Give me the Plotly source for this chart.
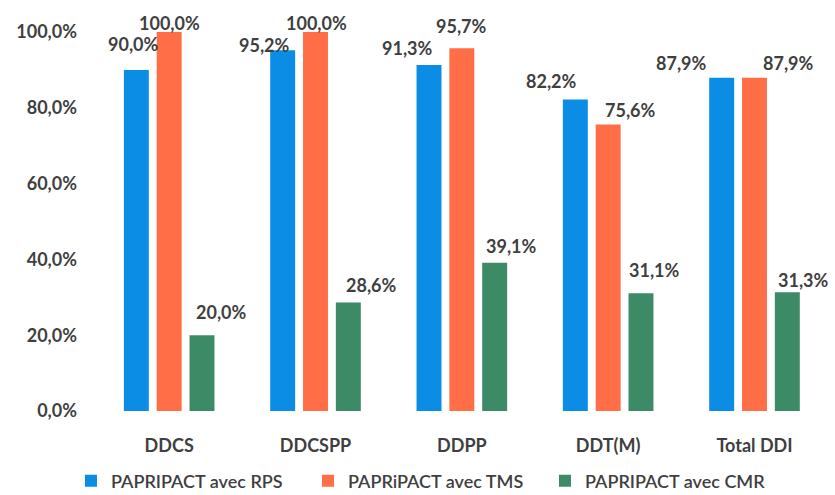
import plotly.graph_objects as go

# Share of structures using PAPRIPACT, by risk theme
categories = ["DDCS", "DDCSPP", "DDPP", "DDT(M)", "Total DDI"]
rps_values = [90.0, 95.2, 91.3, 82.2, 87.9]
tms_values = [100.0, 100.0, 95.7, 75.6, 87.9]
cmr_values = [20.0, 28.6, 39.1, 31.1, 31.3]
series_names = ["PAPRIPACT avec RPS", "PAPRiPACT avec TMS", "PAPRIPACT avec CMR"]
y_ticks = [0, 20, 40, 60, 80, 100]

colors = ["#0B8DE6", "#FF6E46", "#3D8A66"]
text_color = "#3F3F3F"
font_family = "Lato"

# Hand-placed label offsets (px) relative to the category centre / bar top
label_dx = [
    [-35.5, -51.5, -54, -57, -73],
    [0.5, 0.5, 0, 22, 33.5],
    [52, 55.5, 49.5, 46, 49],
]
label_dy = [
    [26, 5.5, 17, 18, 15],
    [9.5, 9.5, 22, 14, 15],
    [23.5, 18, 17, 23, 12.5],
]


def fmt_pct(v):
    return f"{v:.1f}".replace(".", ",") + "%"


fig = go.Figure()
all_values = [rps_values, tms_values, cmr_values]
for name, vals, col in zip(series_names, all_values, colors):
    fig.add_trace(go.Bar(
        x=categories, y=vals, name=name,
        marker=dict(color=col, line=dict(width=0)),
        hoverinfo="skip",
    ))

annotations = []
for s, vals in enumerate(all_values):
    for i, (cat, v) in enumerate(zip(categories, vals)):
        annotations.append(dict(
            x=cat, y=v, xref="x", yref="y",
            text=fmt_pct(v), showarrow=False,
            xanchor="center", yanchor="middle",
            xshift=label_dx[s][i], yshift=label_dy[s][i],
            font=dict(family=font_family, size=18, color=text_color, weight=700),
        ))

fig.update_layout(
    width=835, height=495,
    margin=dict(l=96, r=4, t=32, b=84, autoexpand=False),
    paper_bgcolor="white", plot_bgcolor="white",
    barmode="group", bargap=0.327, bargroupgap=0.24,
    font=dict(family=font_family, size=18, color=text_color),
    showlegend=True,
    legend=dict(
        orientation="h", xref="container", yref="container",
        x=0.085, xanchor="left", y=0.028, yanchor="middle",
        font=dict(family=font_family, size=18, color=text_color, weight=600),
        entrywidth=192, entrywidthmode="pixels",
        bgcolor="rgba(0,0,0,0)",
    ),
    annotations=annotations,
)
fig.update_xaxes(
    showline=False, showgrid=False, zeroline=False, ticks="",
    automargin=False, ticklabelstandoff=22,
    tickfont=dict(family=font_family, size=18, color=text_color, weight=700),
)
fig.update_yaxes(
    range=[0, 100], tickmode="array", tickvals=y_ticks,
    ticktext=[fmt_pct(t) for t in y_ticks],
    showline=False, showgrid=False, zeroline=False, ticks="",
    automargin=False, ticklabelstandoff=18,
    tickfont=dict(family=font_family, size=18, color=text_color, weight=700),
)

fig.write_html("out.html")
